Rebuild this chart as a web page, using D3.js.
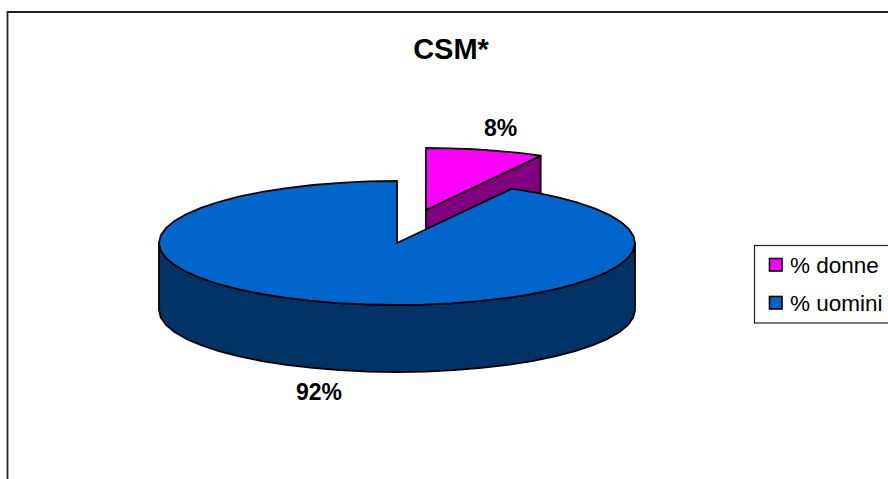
<!DOCTYPE html>
<html><head><meta charset="utf-8">
<script src="https://cdn.jsdelivr.net/npm/d3@7"></script>
<style>html,body{margin:0;padding:0;background:#fff}svg{display:block}text{font-family:"Liberation Sans",Arial,sans-serif;fill:#000}</style>
</head><body><svg width="888" height="479"></svg>
<script>
const categories = ["% donne", "% uomini"];
const values = [8, 92];
const labels = ["8%", "92%"];
const colors = ["#ff00ff", "#0066cc"];
const sideColors = ["#800080", "#003366"];
const title = "CSM*";

const svg = d3.select("svg");
const W = 888, H = 479;
const cx = 397, cy = 243, rx = 238, ry = 62, depth = 67;
const explode = {x: 29, y: -33};

svg.append("path").attr("d", `M7.5 ${H}V12H${W}`).attr("fill", "none").attr("stroke", "#222").attr("stroke-width", 1.8);

const pie = d3.pie().sort(null).value(d => d)(values);
const xs = d3.scaleLinear().domain([-1, 1]).range([cx - rx, cx + rx]);
const ys = d3.scaleLinear().domain([-1, 1]).range([cy - ry, cy + ry]);
const line = d3.line();
const pt = (a, o, dz = 0) => [xs(Math.sin(a)) + o.x, ys(-Math.cos(a)) + o.y + dz];
const arcPts = (a0, a1, o, dz = 0) => {
  const n = Math.max(2, Math.ceil(Math.abs(a1 - a0) / (7 * Math.PI / 180)));
  return d3.range(0, n + 1).map(i => pt(a0 + (a1 - a0) * i / n, o, dz));
};
const ctr = (o, dz = 0) => [cx + o.x, cy + o.y + dz];
const stroke = s => s.attr("stroke", "#000").attr("stroke-width", 1.8).attr("stroke-linejoin", "round");

const [s0, s1] = pie;
const off0 = explode;
stroke(svg.append("path")).attr("fill", sideColors[0])
  .attr("d", line([ctr(off0), pt(s0.endAngle, off0), pt(s0.endAngle, off0, depth), ctr(off0, depth)]) + "Z");
stroke(svg.append("path")).attr("fill", colors[0])
  .attr("d", line([ctr(off0), ...arcPts(s0.startAngle, s0.endAngle, off0)]) + "Z");

const off1 = {x: 0, y: 0};
const wallA = Math.PI / 2, wallB = 3 * Math.PI / 2;
stroke(svg.append("path")).attr("fill", sideColors[1])
  .attr("d", line([...arcPts(wallA, wallB, off1), ...arcPts(wallB, wallA, off1, depth)]) + "Z");
stroke(svg.append("path")).attr("fill", colors[1])
  .attr("d", line([ctr(off1), ...arcPts(s1.startAngle, s1.endAngle, off1)]) + "Z");

svg.append("text").attr("x", 451).attr("y", 58.5).attr("text-anchor", "middle")
  .attr("font-size", 29).attr("font-weight", "bold").text(title);
svg.append("text").attr("x", 500.5).attr("y", 136).attr("text-anchor", "middle")
  .attr("font-size", 23).attr("font-weight", "bold").text(labels[0]);
svg.append("text").attr("x", 319).attr("y", 400).attr("text-anchor", "middle")
  .attr("font-size", 23).attr("font-weight", "bold").text(labels[1]);

svg.append("rect").attr("x", 754.5).attr("y", 245.5).attr("width", 140).attr("height", 77.5)
  .attr("fill", "#fff").attr("stroke", "#222").attr("stroke-width", 1.2);
const rowY = d3.scalePoint().domain(categories).range([265, 303]);
const row = svg.selectAll(".row").data(categories).join("g").attr("class", "row");
row.append("rect").attr("x", 769.5).attr("y", d => rowY(d) - 6.5).attr("width", 12.5).attr("height", 12.5)
  .attr("fill", (d, i) => colors[i]).attr("stroke", "#000").attr("stroke-width", 1.6);
row.append("text").attr("x", 790).attr("y", d => rowY(d) + 8).attr("font-size", 22.5).text(d => d);
</script></body></html>
